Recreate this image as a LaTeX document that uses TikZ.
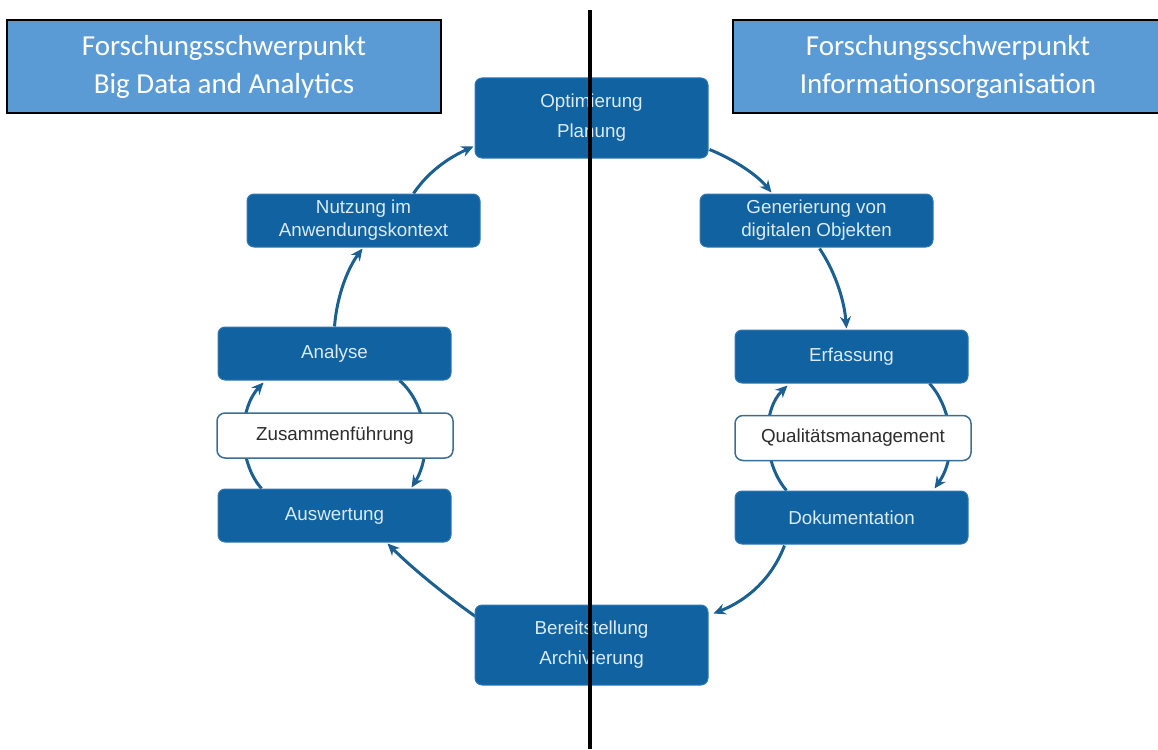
\documentclass[tikz,border=0pt]{standalone}
\usepackage{fontspec}
\setmainfont{Liberation Sans}
\newfontfamily\hdfont{Carlito}
\usetikzlibrary{calc,arrows.meta,backgrounds}
\definecolor{boxblue}{RGB}{16,98,160}
\definecolor{boxedge}{RGB}{50,120,180}
\definecolor{boxtext}{RGB}{218,234,246}
\definecolor{hdblue}{RGB}{91,155,213}
\definecolor{arrowblue}{RGB}{28,96,145}
\definecolor{wedge}{RGB}{60,110,145}
\definecolor{wtext}{RGB}{45,45,45}
\tikzset{
  header/.style={draw=black, line width=2.5pt, fill=hdblue, text=white,
    font=\hdfont\fontsize{29}{38}\selectfont, align=center, inner sep=0pt},
  bluebox/.style={draw=boxedge, line width=1pt, fill=boxblue, text=boxtext,
    rounded corners=7pt, font=\fontsize{18.8}{23}\selectfont, align=center,
    minimum width=233pt, minimum height=53pt, inner sep=0pt},
  tallbox/.style={bluebox, minimum height=80pt, font=\fontsize{18.8}{30}\selectfont},
  whitebox/.style={draw=wedge, line width=1.5pt, fill=white, text=wtext,
    rounded corners=8pt, font=\fontsize{18.8}{23}\selectfont,
    minimum width=236pt, minimum height=45pt, inner sep=0pt},
  flow/.style={draw=arrowblue, line width=3pt, -{Stealth[length=12pt,width=11pt]}},
  divider/.style={draw=black, line width=4pt}
}
\begin{document}
\begin{tikzpicture}[x=1pt,y=-1pt]
\useasboundingbox (0,0) rectangle (1158,749);
% headers
\node[header, minimum width=434pt, minimum height=93pt] (hl) at (224,66.5)
  {Forschungsschwerpunkt\\Big Data and Analytics};
\node[header, minimum width=430pt, minimum height=93pt] (hr) at (948,66.5)
  {Forschungsschwerpunkt\\Informationsorganisation};
% cycle nodes
\node[tallbox] (opt) at (591.5,118) {Optimierung\\Planung};
\node[bluebox] (nutz) at (363.5,220.5) {Nutzung im\\Anwendungskontext};
\node[bluebox] (gen) at (816.5,220.5) {Generierung von\\digitalen Objekten};
\node[bluebox] (ana) at (334.5,353.5) {Analyse};
\node[bluebox] (erf) at (851.5,356.5) {Erfassung};
\node[whitebox] (zus) at (335,435.5) {Zusammenführung};
\node[whitebox] (qual) at (853,438) {Qualitätsmanagement};
\node[bluebox] (ausw) at (334.5,515.5) {Auswertung};
\node[bluebox] (dok) at (851.5,517.5) {Dokumentation};
\node[tallbox] (ber) at (591.5,645) {Bereitstellung\\Archivierung};
% connectors behind nodes
\begin{scope}[on background layer]
\draw[flow] ($(ber.north west)+(1,12)$) .. controls (445,595) and (412,568) .. ($(ausw.south west)+(170,1)$);
\draw[flow] ($(ausw.north west)+(44,0)$) .. controls (238,462) and (238,410) .. ($(ana.south west)+(46,2)$);
\draw[flow] ($(ana.south west)+(182,0)$) .. controls (428,405) and (432,455) .. ($(ausw.north west)+(194,-1)$);
\draw[flow] (ana.north) .. controls (337,295) and (348,268) .. ($(nutz.south)+(-1,1)$);
\draw[flow] ($(nutz.north west)+(167,0)$) .. controls (428,172) and (448,158) .. ($(opt.north west)+(-1,69)$);
\draw[flow] ($(opt.north east)+(1,72)$) .. controls (735,160) and (757,175) .. ($(gen.north west)+(72,-1)$);
\draw[flow] ($(gen.south west)+(120,1)$) .. controls (834,270) and (844,298) .. ($(erf.north west)+(112,-1)$);
\draw[flow] ($(dok.north west)+(52,0)$) .. controls (762,462) and (762,410) .. ($(erf.south west)+(53,2)$);
\draw[flow] ($(erf.south west)+(195,0)$) .. controls (952,408) and (958,455) .. ($(dok.north west)+(200,-2)$);
\draw[flow] ($(dok.south west)+(50,1)$) .. controls (772,578) and (748,600) .. ($(ber.north east)+(5,9)$);
\end{scope}
% divider line on top
\coordinate (dtop) at (589.5,10);
\coordinate (dbot) at (589.5,749);
\draw[divider] (dtop) -- (dbot);
\end{tikzpicture}
\end{document}
